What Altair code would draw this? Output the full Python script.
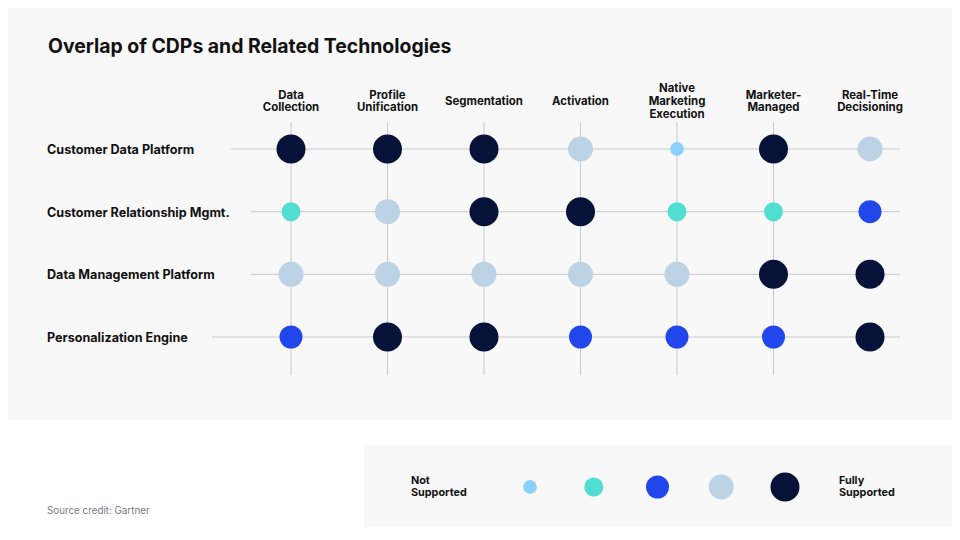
import altair as alt
import pandas as pd

# ---------------- data ----------------
title_text = "Overlap of CDPs and Related Technologies"
source_text = "Source credit: Gartner"

columns = ["Data Collection", "Profile Unification", "Segmentation", "Activation",
           "Native Marketing Execution", "Marketer-Managed", "Real-Time Decisioning"]
column_labels = ["Data\nCollection", "Profile\nUnification", "Segmentation", "Activation",
                 "Native\nMarketing\nExecution", "Marketer-\nManaged", "Real-Time\nDecisioning"]
rows = ["Customer Data Platform", "Customer Relationship Mgmt.",
        "Data Management Platform", "Personalization Engine"]

# support level 1 (not supported) .. 5 (fully supported)
cdp_levels = [5, 5, 5, 4, 1, 5, 4]
crm_levels = [2, 4, 5, 5, 2, 2, 3]
dmp_levels = [4, 4, 4, 4, 4, 5, 5]
pe_levels = [3, 5, 5, 3, 3, 3, 5]

levels = [1, 2, 3, 4, 5]
legend_low = "Not\nSupported"
legend_high = "Fully\nSupported"

# ---------------- styles ----------------
level_colors = ["#8ad1ff", "#4fdecf", "#2147ec", "#bcd3e6", "#061237"]
level_sizes = [190, 361, 529, 625, 841]
FONT = "Inter"
W, H = 944, 524
row_rule_start = [223, 243, 243, 204]
HEADER_LH = 12.8
LEGEND_LH = 12.8

# ---------------- tables ----------------
all_levels = [cdp_levels, crm_levels, dmp_levels, pe_levels]
recs = []
for r, lv in zip(rows, all_levels):
    for c, v in zip(columns, lv):
        recs.append({"row": r, "col": c, "level": v})
cells = pd.DataFrame(recs)
cols_df = pd.DataFrame({"col": columns, "label": column_labels})
rows_df = pd.DataFrame({"row": rows})
legend_df = pd.DataFrame({"level": levels})
one = pd.DataFrame({"d": [0]})

xscale = alt.Scale(type="point", domain=columns, range=[283, 862], padding=0)
yscale = alt.Scale(type="point", domain=rows, range=[141, 329], padding=0)
cscale = alt.Scale(type="ordinal", domain=levels, range=level_colors)
sscale = alt.Scale(type="ordinal", domain=levels, range=level_sizes)

X = alt.X("col:N", scale=xscale, axis=None)
Y = alt.Y("row:N", scale=yscale, axis=None)

bg = alt.Chart(one).mark_rect(color="#f8f8f8").encode(
    x=alt.value(0), x2=alt.value(W), y=alt.value(0), y2=alt.value(412))
panel = alt.Chart(one).mark_rect(color="#f8f8f8").encode(
    x=alt.value(356), x2=alt.value(W), y=alt.value(437), y2=alt.value(519))

vrules = alt.Chart(cols_df).transform_filter(
    alt.datum.col != columns[-1]
).mark_rule(color="#c9c9c9", strokeWidth=1).encode(
    x=X, y=alt.value(114), y2=alt.value(367))

hrules = []
for r, xs in zip(rows, row_rule_start):
    hrules.append(
        alt.Chart(one).mark_rule(color="#c9c9c9", strokeWidth=1).encode(
            y=alt.datum(r, scale=yscale, type="nominal", axis=None),
            x=alt.value(xs), x2=alt.value(892)))

dots = alt.Chart(cells).mark_circle(opacity=1).encode(
    x=X, y=Y,
    color=alt.Color("level:O", scale=cscale, legend=None),
    size=alt.Size("level:O", scale=sscale, legend=None))

headers = alt.Chart(cols_df).transform_calculate(
    ty=f"94 - (length(split(datum.label, '\\n')) - 1) * {HEADER_LH} / 2"
).mark_text(
    font=FONT, fontSize=11.4, fontWeight="bold", color="#111111",
    align="center", baseline="middle", lineBreak="\n", lineHeight=HEADER_LH
).encode(x=X, y=alt.Y("ty:Q", scale=None, axis=None), text="label:N")

row_labels = alt.Chart(rows_df).mark_text(
    font=FONT, fontSize=12.6, fontWeight="bold", color="#111111",
    align="left", baseline="middle", dy=1
).encode(x=alt.value(39), y=Y, text="row:N")

title = alt.Chart(one).mark_text(
    font=FONT, fontSize=19.4, fontWeight="bold", color="#111111",
    align="left", baseline="middle"
).encode(x=alt.value(40), y=alt.value(39), text=alt.value(title_text))

source = alt.Chart(one).mark_text(
    font=FONT, fontSize=9.8, color="#7a7a7a", align="left", baseline="middle"
).encode(x=alt.value(39), y=alt.value(503), text=alt.value(source_text))

legend_dots = alt.Chart(legend_df).mark_circle(opacity=1).encode(
    x=alt.X("level:O", scale=alt.Scale(type="point", domain=levels, range=[522, 777], padding=0), axis=None),
    y=alt.value(479),
    color=alt.Color("level:O", scale=cscale, legend=None),
    size=alt.Size("level:O", scale=sscale, legend=None))

legend_lo = alt.Chart(one).mark_text(
    font=FONT, fontSize=10.8, fontWeight="bold", color="#111111",
    align="left", baseline="middle", lineBreak="\n", lineHeight=LEGEND_LH
).encode(x=alt.value(403), y=alt.value(479 - LEGEND_LH / 2), text=alt.value(legend_low))

legend_hi = alt.Chart(one).mark_text(
    font=FONT, fontSize=10.8, fontWeight="bold", color="#111111",
    align="left", baseline="middle", lineBreak="\n", lineHeight=LEGEND_LH
).encode(x=alt.value(831), y=alt.value(479 - LEGEND_LH / 2), text=alt.value(legend_high))

chart = alt.layer(
    bg, panel, vrules, *hrules, dots, headers, row_labels, title, source,
    legend_dots, legend_lo, legend_hi
).resolve_scale(x="independent", y="independent").properties(
    width=W, height=H, autosize=alt.AutoSizeParams(type="none"), padding=0,
    background="white"
).configure_view(stroke=None)

chart.save("out.html", embed_options={"renderer": "svg", "actions": False})
